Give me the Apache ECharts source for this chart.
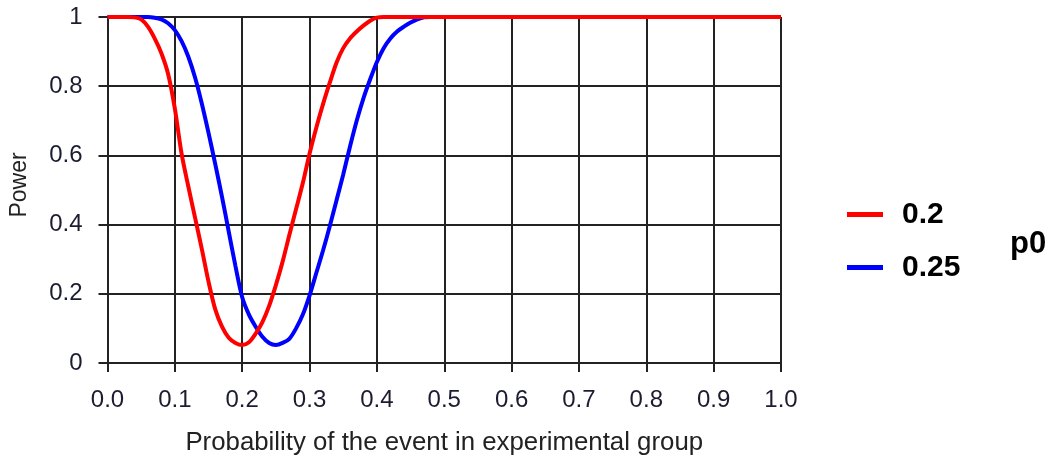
<!DOCTYPE html>
<html>
<head>
<meta charset="utf-8">
<script src="https://cdn.jsdelivr.net/npm/echarts@6/dist/echarts.min.js"></script>
<style>
html,body{margin:0;padding:0;background:#fff;}
#chart{width:1050px;height:461px;}
</style>
</head>
<body>
<div id="chart"></div>
<script>
// Probability of the event in experimental group (x values)
var xValues = [0.00,0.01,0.02,0.03,0.04,0.05,0.06,0.07,0.08,0.09,
  0.10,0.11,0.12,0.13,0.14,0.15,0.16,0.17,0.18,0.19,
  0.20,0.21,0.22,0.23,0.24,0.25,0.26,0.27,0.28,0.29,
  0.30,0.31,0.32,0.33,0.34,0.35,0.36,0.37,0.38,0.39,
  0.40,0.41,0.42,0.43,0.44,0.45,0.46,0.47,0.48,0.49,
  0.50,0.60,0.70,0.80,0.90,1.00];
// Power for p0 = 0.2 (red)
var powerP020 = [1,1,1,1,0.999,0.993,0.972,0.938,0.895,0.835,
  0.735,0.605,0.51,0.42,0.33,0.235,0.155,0.105,0.073,0.058,
  0.052,0.06,0.085,0.118,0.165,0.225,0.293,0.37,0.445,0.52,
  0.605,0.68,0.748,0.81,0.868,0.91,0.938,0.958,0.975,0.989,
  0.998,1,1,1,1,1,1,1,1,1,
  1,1,1,1,1,1];
// Power for p0 = 0.25 (blue)
var powerP025 = [1,1,1,1,1,1,1,0.998,0.993,0.982,
  0.962,0.93,0.885,0.825,0.75,0.665,0.575,0.48,0.38,0.28,
  0.19,0.14,0.105,0.076,0.058,0.052,0.058,0.07,0.1,0.14,
  0.195,0.26,0.325,0.395,0.47,0.545,0.625,0.7,0.765,0.82,
  0.87,0.91,0.938,0.958,0.972,0.984,0.993,0.999,1,1,
  1,1,1,1,1,1];
var seriesNames = ['0.2', '0.25'];
var legendTitle = 'p0';
var xAxisTitle = 'Probability of the event in experimental group';
var yAxisTitle = 'Power';

function pairs(xs, ys){ return xs.map(function(x,i){ return [x, ys[i]]; }); }

var chart = echarts.init(document.getElementById('chart'), null, {renderer:'canvas'});
var font = 'Liberation Sans, Arial, sans-serif';
var gridLine = {show:true, lineStyle:{color:'#222', width:2}};
chart.setOption({
  animation:false,
  backgroundColor:'#fff',
  grid:{left:107.5, right:269, top:17, bottom:97.5, containLabel:false},
  title:{text:legendTitle, left:1005, top:224,
    textStyle:{fontFamily:font, fontSize:31, fontWeight:'bold', color:'#000'}},
  legend:{
    data:seriesNames, orient:'vertical', left:842, top:194.5,
    icon:'rect', itemWidth:36, itemHeight:5, itemGap:23,
    textStyle:{fontFamily:font, fontSize:30, fontWeight:'bold', color:'#000', padding:[0,0,0,14]}
  },
  xAxis:{
    type:'value', min:0, max:1, interval:0.1,
    name:xAxisTitle, nameLocation:'middle', nameGap:67,
    nameTextStyle:{fontFamily:font, fontSize:25.8, color:'#222'},
    axisLine:{show:true, onZero:false, lineStyle:{color:'#222', width:2}},
    axisTick:{show:true, length:9, lineStyle:{color:'#222', width:2}},
    axisLabel:{margin:25, fontFamily:font, fontSize:24, color:'#1c1c30',
      formatter:function(v){ return v.toFixed(1); }},
    splitLine:gridLine
  },
  yAxis:{
    type:'value', min:0, max:1, interval:0.2,
    name:yAxisTitle, nameLocation:'middle', nameGap:76, nameRotate:90,
    nameTextStyle:{fontFamily:font, fontSize:23, color:'#222', padding:[0,0,0,10]},
    axisLine:{show:true, lineStyle:{color:'#222', width:2}},
    axisTick:{show:true, length:9, lineStyle:{color:'#222', width:2}},
    axisLabel:{margin:25, fontFamily:font, fontSize:24, color:'#1c1c30',
      formatter:function(v){ return String(Math.round(v*10)/10); }},
    splitLine:gridLine
  },
  series:[
    {name:seriesNames[1], type:'line', data:pairs(xValues, powerP025), showSymbol:false, symbol:'none',
      smooth:0.3, lineStyle:{color:'#0000ff', width:4}, itemStyle:{color:'#0000ff'}, z:3},
    {name:seriesNames[0], type:'line', data:pairs(xValues, powerP020), showSymbol:false, symbol:'none',
      smooth:0.3, lineStyle:{color:'#ff0000', width:4}, itemStyle:{color:'#ff0000'}, z:4}
  ]
});
</script>
</body>
</html>
